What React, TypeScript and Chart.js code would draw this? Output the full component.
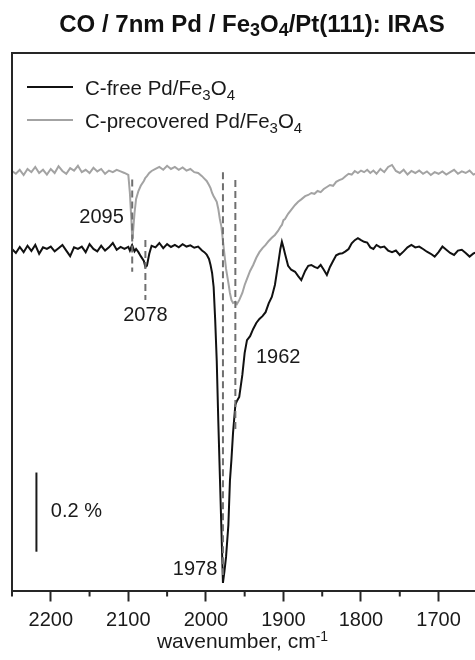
import { useEffect, useRef } from 'react';
import { Chart, registerables } from 'chart.js';

Chart.register(...registerables);

const FONT = '"Liberation Sans", Arial, Helvetica, sans-serif';

// wavenumber (cm-1)
const wavenumbers = [
  2250, 2245, 2240, 2235, 2230, 2225, 2220, 2215, 2210, 2205,
  2200, 2195, 2190, 2185, 2180, 2175, 2170, 2165, 2160, 2155,
  2150, 2145, 2140, 2135, 2130, 2125, 2120, 2115, 2110, 2105,
  2100, 2098, 2096, 2095, 2094, 2092, 2090, 2087, 2084, 2080,
  2078, 2076, 2073, 2070, 2065, 2060, 2055, 2050, 2045, 2040,
  2035, 2030, 2025, 2020, 2015, 2010, 2005, 2002, 1999, 1996,
  1994, 1992, 1990, 1988, 1986, 1984, 1982, 1980, 1978, 1976,
  1974, 1971, 1969, 1967, 1965, 1962, 1960, 1957, 1953, 1950,
  1947, 1943, 1939, 1935, 1931, 1927, 1923, 1919, 1915, 1911,
  1907, 1904, 1902, 1900, 1898, 1894, 1890, 1885, 1881, 1877,
  1872, 1868, 1864, 1860, 1856, 1852, 1848, 1844, 1840, 1836,
  1832, 1828, 1824, 1820, 1816, 1812, 1808, 1804, 1800, 1796,
  1792, 1788, 1784, 1780, 1775, 1770, 1765, 1760, 1755, 1750,
  1745, 1740, 1735, 1730, 1725, 1720, 1715, 1710, 1705, 1700,
  1695, 1690, 1685, 1680, 1675, 1670, 1665, 1660, 1655, 1650,
];

// C-free Pd/Fe3O4 (ΔR/R, %)
const cFree = [
  0.000, -0.010, 0.005, -0.008, 0.008, -0.005, 0.010, -0.012, 0.004, 0.000,
  0.006, -0.006, 0.002, 0.010, -0.004, -0.018, 0.004, 0.000, 0.006, -0.008,
  0.012, 0.000, -0.006, 0.008, -0.004, 0.004, 0.015, -0.002, 0.005, 0.000,
  0.005, -0.004, 0.006, -0.002, 0.004, -0.006, 0.000, -0.008, -0.018, -0.030,
  -0.045, -0.042, -0.012, 0.008, 0.004, 0.015, 0.002, 0.012, 0.005, 0.010,
  0.004, 0.012, 0.006, 0.009, 0.003, 0.006, -0.004, -0.008, -0.014, -0.025,
  -0.040, -0.060, -0.095, -0.178, -0.280, -0.430, -0.565, -0.700, -0.835, -0.805,
  -0.770, -0.690, -0.580, -0.525, -0.460, -0.390, -0.380, -0.370, -0.315, -0.260,
  -0.228, -0.218, -0.200, -0.185, -0.175, -0.168, -0.158, -0.136, -0.120, -0.090,
  -0.040, 0.000, 0.018, 0.004, -0.012, -0.042, -0.052, -0.057, -0.068, -0.078,
  -0.055, -0.042, -0.040, -0.045, -0.048, -0.040, -0.052, -0.065, -0.045, -0.030,
  -0.016, -0.012, -0.011, -0.006, 0.000, 0.014, 0.022, 0.027, 0.022, 0.018,
  0.016, 0.004, 0.000, 0.010, 0.004, 0.006, -0.004, -0.008, -0.004, -0.015,
  -0.006, 0.004, 0.010, 0.004, 0.006, 0.000, -0.007, -0.012, -0.019, -0.008,
  0.006, -0.002, -0.010, -0.015, -0.004, -0.002, -0.010, -0.019, -0.011, -0.008,
];

// C-precovered Pd/Fe3O4 (ΔR/R, %, offset)
const cPrecovered = [
  0.195, 0.188, 0.198, 0.185, 0.200, 0.192, 0.205, 0.190, 0.198, 0.186,
  0.200, 0.190, 0.207, 0.195, 0.188, 0.202, 0.196, 0.208, 0.192, 0.198,
  0.190, 0.203, 0.194, 0.200, 0.188, 0.196, 0.192, 0.198, 0.194, 0.190,
  0.185, 0.140, 0.070, 0.028, 0.040, 0.090, 0.125, 0.145, 0.158, 0.170,
  0.178, 0.182, 0.190, 0.195, 0.200, 0.205, 0.198, 0.208, 0.200, 0.205,
  0.198, 0.204, 0.196, 0.200, 0.192, 0.190, 0.182, 0.176, 0.170, 0.160,
  0.152, 0.140, 0.132, 0.125, 0.118, 0.100, 0.075, 0.056, 0.020, -0.015,
  -0.050, -0.085, -0.110, -0.128, -0.135, -0.132, -0.138, -0.128, -0.110, -0.090,
  -0.075, -0.055, -0.040, -0.022, -0.008, 0.002, 0.010, 0.020, 0.028, 0.035,
  0.045, 0.055, 0.060, 0.072, 0.075, 0.088, 0.098, 0.110, 0.118, 0.124,
  0.132, 0.135, 0.140, 0.138, 0.145, 0.142, 0.150, 0.155, 0.160, 0.158,
  0.168, 0.172, 0.175, 0.182, 0.188, 0.186, 0.195, 0.190, 0.196, 0.192,
  0.198, 0.190, 0.196, 0.188, 0.200, 0.192, 0.205, 0.210, 0.195, 0.190,
  0.198, 0.186, 0.195, 0.190, 0.196, 0.188, 0.194, 0.185, 0.192, 0.188,
  0.194, 0.186, 0.192, 0.198, 0.188, 0.194, 0.190, 0.196, 0.186, 0.190,
];

// axis ticks (every 50, labelled every 100)
const xTicks = [2250, 2200, 2150, 2100, 2050, 2000, 1950, 1900, 1850, 1800, 1750, 1700];
const xRange = [1653, 2250];
const yRange = [-0.854, 0.49];

// peak marker lines and labels
const peakWn = [2095, 2078, 1978, 1962];
const peakTop = [0.174, 0.0225, 0.192, 0.1725];
const peakBottom = [-0.057, -0.1275, -0.815, -0.4525];
const peakLabels = ['2095', '2078', '1978', '1962'];
const peakLabelWn = [2105.8, 2078, 1985.2, 1935.4];
const peakLabelY = [0.064, -0.181, -0.814, -0.284];
const peakLabelAlign = ['right', 'center', 'right', 'left'];

// scale bar
const scaleBarWn = 2218.5;
const scaleBarY = [-0.559, -0.757];
const scaleBarLabel = '0.2 %';
const scaleBarLabelWn = 2200;
const scaleBarLabelY = -0.669;

type Seg = [string, string];
const titleSegs: Seg[] = [['CO / 7nm Pd / Fe', ''], ['3', 'sub'], ['O', ''], ['4', 'sub'], ['/Pt(111): IRAS', '']];
const seriesNames: Seg[][] = [
  [['C-free Pd/Fe', ''], ['3', 'sub'], ['O', ''], ['4', 'sub']],
  [['C-precovered Pd/Fe', ''], ['3', 'sub'], ['O', ''], ['4', 'sub']],
];
const seriesColors = ['#111111', '#a3a3a3'];
const xTitleSegs: Seg[] = [['wavenumber, cm', ''], ['-1', 'sup']];

function drawRich(
  ctx: CanvasRenderingContext2D,
  segs: Seg[],
  x: number,
  baseline: number,
  align: string,
  size: number,
  small: number,
  shift: number,
  weight = 'normal',
) {
  const fontFor = (k: string) => `${weight} ${k ? small : size}px ${FONT}`;
  let total = 0;
  const widths = segs.map(([t, k]) => {
    ctx.font = fontFor(k);
    const w = ctx.measureText(t).width;
    total += w;
    return w;
  });
  let cx = align === 'center' ? x - total / 2 : align === 'right' ? x - total : x;
  ctx.textAlign = 'left';
  ctx.textBaseline = 'alphabetic';
  segs.forEach(([t, k], i) => {
    ctx.font = fontFor(k);
    const dy = k === 'sub' ? shift : k === 'sup' ? -shift : 0;
    ctx.fillText(t, cx, baseline + dy);
    cx += widths[i];
  });
}

const overlayPlugin = {
  id: 'overlay',
  afterDraw(chart: any) {
    const { ctx, chartArea: ca, scales } = chart;
    const xs = scales.x;
    const ys = scales.y;
    ctx.save();
    // frame (left + top)
    ctx.strokeStyle = '#262626';
    ctx.lineWidth = 2;
    ctx.beginPath();
    ctx.moveTo(ca.left, ca.bottom);
    ctx.lineTo(ca.left, ca.top);
    ctx.lineTo(ca.right, ca.top);
    ctx.stroke();

    // minor ticks
    ctx.lineWidth = 2;
    xTicks.forEach((v) => {
      if (v % 100 !== 0) {
        const px = xs.getPixelForValue(v);
        ctx.beginPath();
        ctx.moveTo(px, ca.bottom);
        ctx.lineTo(px, ca.bottom + 6);
        ctx.stroke();
      }
    });

    // scale bar
    ctx.strokeStyle = '#1a1a1a';
    ctx.lineWidth = 2;
    const sbx = xs.getPixelForValue(scaleBarWn);
    ctx.beginPath();
    ctx.moveTo(sbx, ys.getPixelForValue(scaleBarY[0]));
    ctx.lineTo(sbx, ys.getPixelForValue(scaleBarY[1]));
    ctx.stroke();

    ctx.fillStyle = '#1a1a1a';
    ctx.font = `20px ${FONT}`;
    ctx.textBaseline = 'alphabetic';
    ctx.textAlign = 'left';
    ctx.fillText(scaleBarLabel, xs.getPixelForValue(scaleBarLabelWn), ys.getPixelForValue(scaleBarLabelY));

    // peak labels
    peakLabels.forEach((t, i) => {
      ctx.textAlign = peakLabelAlign[i] as CanvasTextAlign;
      ctx.fillText(t, xs.getPixelForValue(peakLabelWn[i]), ys.getPixelForValue(peakLabelY[i]));
    });

    // legend
    seriesNames.forEach((segs, i) => {
      const cy = ca.top + 34 + i * 33;
      ctx.strokeStyle = seriesColors[i];
      ctx.lineWidth = 2;
      ctx.beginPath();
      ctx.moveTo(ca.left + 15, cy);
      ctx.lineTo(ca.left + 61, cy);
      ctx.stroke();
      ctx.fillStyle = '#1a1a1a';
      drawRich(ctx, segs, ca.left + 73, cy + 7.5, 'left', 20.5, 15, 5);
    });

    // title
    ctx.fillStyle = '#111111';
    drawRich(ctx, titleSegs, 252, 31.5, 'center', 24, 18, 4, 'bold');

    // x axis title
    ctx.fillStyle = '#1a1a1a';
    drawRich(ctx, xTitleSegs, 242.5, 648.3, 'center', 21, 14, 7);
    ctx.restore();
  },
};

export default function App() {
  const canvasRef = useRef<HTMLCanvasElement | null>(null);

  useEffect(() => {
    const canvas = canvasRef.current;
    if (!canvas) return;
    const toPoints = (ys: number[]) => wavenumbers.map((w, i) => ({ x: w, y: ys[i] }));
    const dashSets = peakWn.map((w, i) => ({
      data: [
        { x: w, y: peakTop[i] },
        { x: w, y: peakBottom[i] },
      ],
      borderColor: '#6f6f6f',
      borderWidth: 2,
      borderDash: [7, 4],
      pointRadius: 0,
      order: 0,
    }));
    const chart = new Chart(canvas, {
      type: 'line',
      data: {
        datasets: [
          ...dashSets,
          {
            data: toPoints(cFree),
            borderColor: seriesColors[0],
            borderWidth: 2,
            pointRadius: 0,
            tension: 0,
            order: 1,
          },
          {
            data: toPoints(cPrecovered),
            borderColor: seriesColors[1],
            borderWidth: 2,
            pointRadius: 0,
            tension: 0,
            order: 2,
          },
        ] as any,
      },
      options: {
        responsive: false,
        animation: false,
        events: [],
        layout: { padding: { left: 12, right: 0, top: 53, bottom: 20.5 } },
        plugins: {
          legend: { display: false },
          title: { display: false },
          tooltip: { enabled: false },
        },
        scales: {
          x: {
            type: 'linear',
            reverse: true,
            min: xRange[0],
            max: xRange[1],
            afterBuildTicks: (scale: any) => {
              scale.ticks = xTicks.map((v) => ({ value: v }));
            },
            border: { display: true, color: '#262626', width: 2 },
            grid: {
              drawOnChartArea: false,
              drawTicks: true,
              tickLength: 11,
              tickWidth: 2,
              tickColor: (c: any) =>
                c.tick && c.tick.value % 100 === 0 ? '#262626' : 'rgba(0,0,0,0)',
            },
            ticks: {
              autoSkip: false,
              maxRotation: 0,
              padding: 7,
              color: '#1a1a1a',
              font: { family: FONT, size: 20 },
              callback: (v: any) => (Number(v) % 100 === 0 ? String(v) : ''),
            },
          },
          y: {
            type: 'linear',
            display: false,
            min: yRange[0],
            max: yRange[1],
          },
        },
      },
      plugins: [overlayPlugin],
    });
    return () => chart.destroy();
  }, []);

  return (
    <div style={{ position: 'absolute', left: 0, top: 0, width: 475, height: 660, background: '#fff' }}>
      <canvas ref={canvasRef} width={475} height={660} style={{ display: 'block' }} />
    </div>
  );
}
